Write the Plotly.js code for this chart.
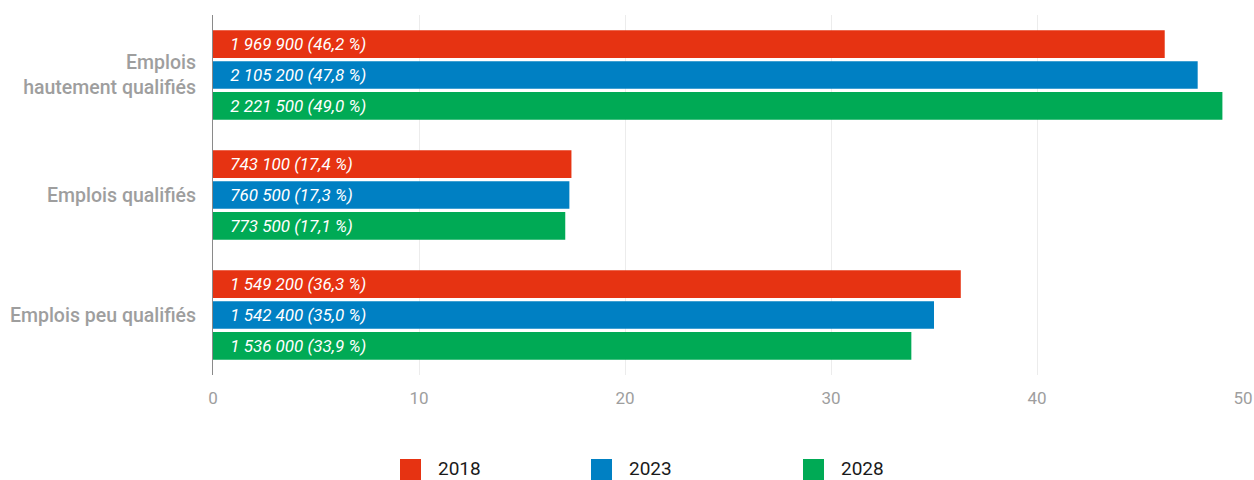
<!DOCTYPE html>
<html><head><meta charset="utf-8">
<script src="https://cdn.plot.ly/plotly-3.0.1.min.js"></script>
<style>html,body{margin:0;padding:0;background:#fff}#c{width:1254px;height:480px}</style>
</head><body><div id="c"></div>
<script>
const categories = ["Emplois<br>hautement qualifiés", "Emplois qualifiés", "Emplois peu qualifiés"];
const years = ["2018", "2023", "2028"];
const values2018 = [46.2, 17.4, 36.3];
const values2023 = [47.8, 17.3, 35.0];
const values2028 = [49.0, 17.1, 33.9];
const labels2018 = ["1 969 900 (46,2 %)", "743 100 (17,4 %)", "1 549 200 (36,3 %)"];
const labels2023 = ["2 105 200 (47,8 %)", "760 500 (17,3 %)", "1 542 400 (35,0 %)"];
const labels2028 = ["2 221 500 (49,0 %)", "773 500 (17,1 %)", "1 536 000 (33,9 %)"];
const colors = ["#E63312", "#0080C3", "#00AA55"];

const series = [values2018, values2023, values2028];
const labels = [labels2018, labels2023, labels2028];
const pad = "\u2002\u2004";
const traces = years.map((y, i) => ({
  type: "bar", orientation: "h", name: y,
  y: categories, x: series[i],
  text: labels[i].map(t => pad + t),
  textposition: "inside", insidetextanchor: "start", constraintext: "none",
  textfont: {family: "Roboto", size: 17, color: "#ffffff", style: "italic"},
  marker: {color: colors[i]},
  hoverinfo: "none", showlegend: false
}));

const L = 213, R = 1243, T = 15, B = 375;
const px = v => (v - L) / (R - L);
const py = v => (B - v) / (B - T);
const legX = [400, 591, 803];
const shapes = [], annotations = [];
years.forEach((y, i) => {
  shapes.push({type: "rect", xref: "paper", yref: "paper",
    x0: px(legX[i]), x1: px(legX[i] + 21), y0: py(480), y1: py(459),
    fillcolor: colors[i], line: {width: 0}});
  annotations.push({xref: "paper", yref: "paper", x: px(legX[i] + 37), y: py(468.5),
    xanchor: "left", yanchor: "middle", text: y, showarrow: false, borderpad: 0,
    font: {family: "Roboto", size: 19, color: "#1a1a1a"}});
});

const layout = {
  width: 1254, height: 480,
  margin: {l: L, r: 1254 - R, t: T, b: 480 - B},
  paper_bgcolor: "#fff", plot_bgcolor: "#fff",
  barmode: "group", bargap: 0.23, bargroupgap: 0.1,
  font: {family: "Roboto"},
  xaxis: {range: [0, 50], dtick: 10, showgrid: true, gridcolor: "#ececec", gridwidth: 1,
    zeroline: false, showline: false, ticks: "outside", ticklen: 8, tickcolor: "rgba(0,0,0,0)",
    tickfont: {family: "Roboto", size: 17, color: "#9e9e9e"}, fixedrange: true},
  yaxis: {type: "category", autorange: "reversed", showgrid: false, zeroline: false,
    showline: true, linecolor: "#8a8a8a", linewidth: 1,
    ticks: "outside", ticklen: 12, tickcolor: "rgba(0,0,0,0)",
    tickfont: {family: "Roboto", size: 19.5, color: "#9e9e9e", weight: 500}},
  shapes: shapes, annotations: annotations, showlegend: false
};
Plotly.newPlot("c", traces, layout, {displayModeBar: false, staticPlot: true});
</script></body></html>
